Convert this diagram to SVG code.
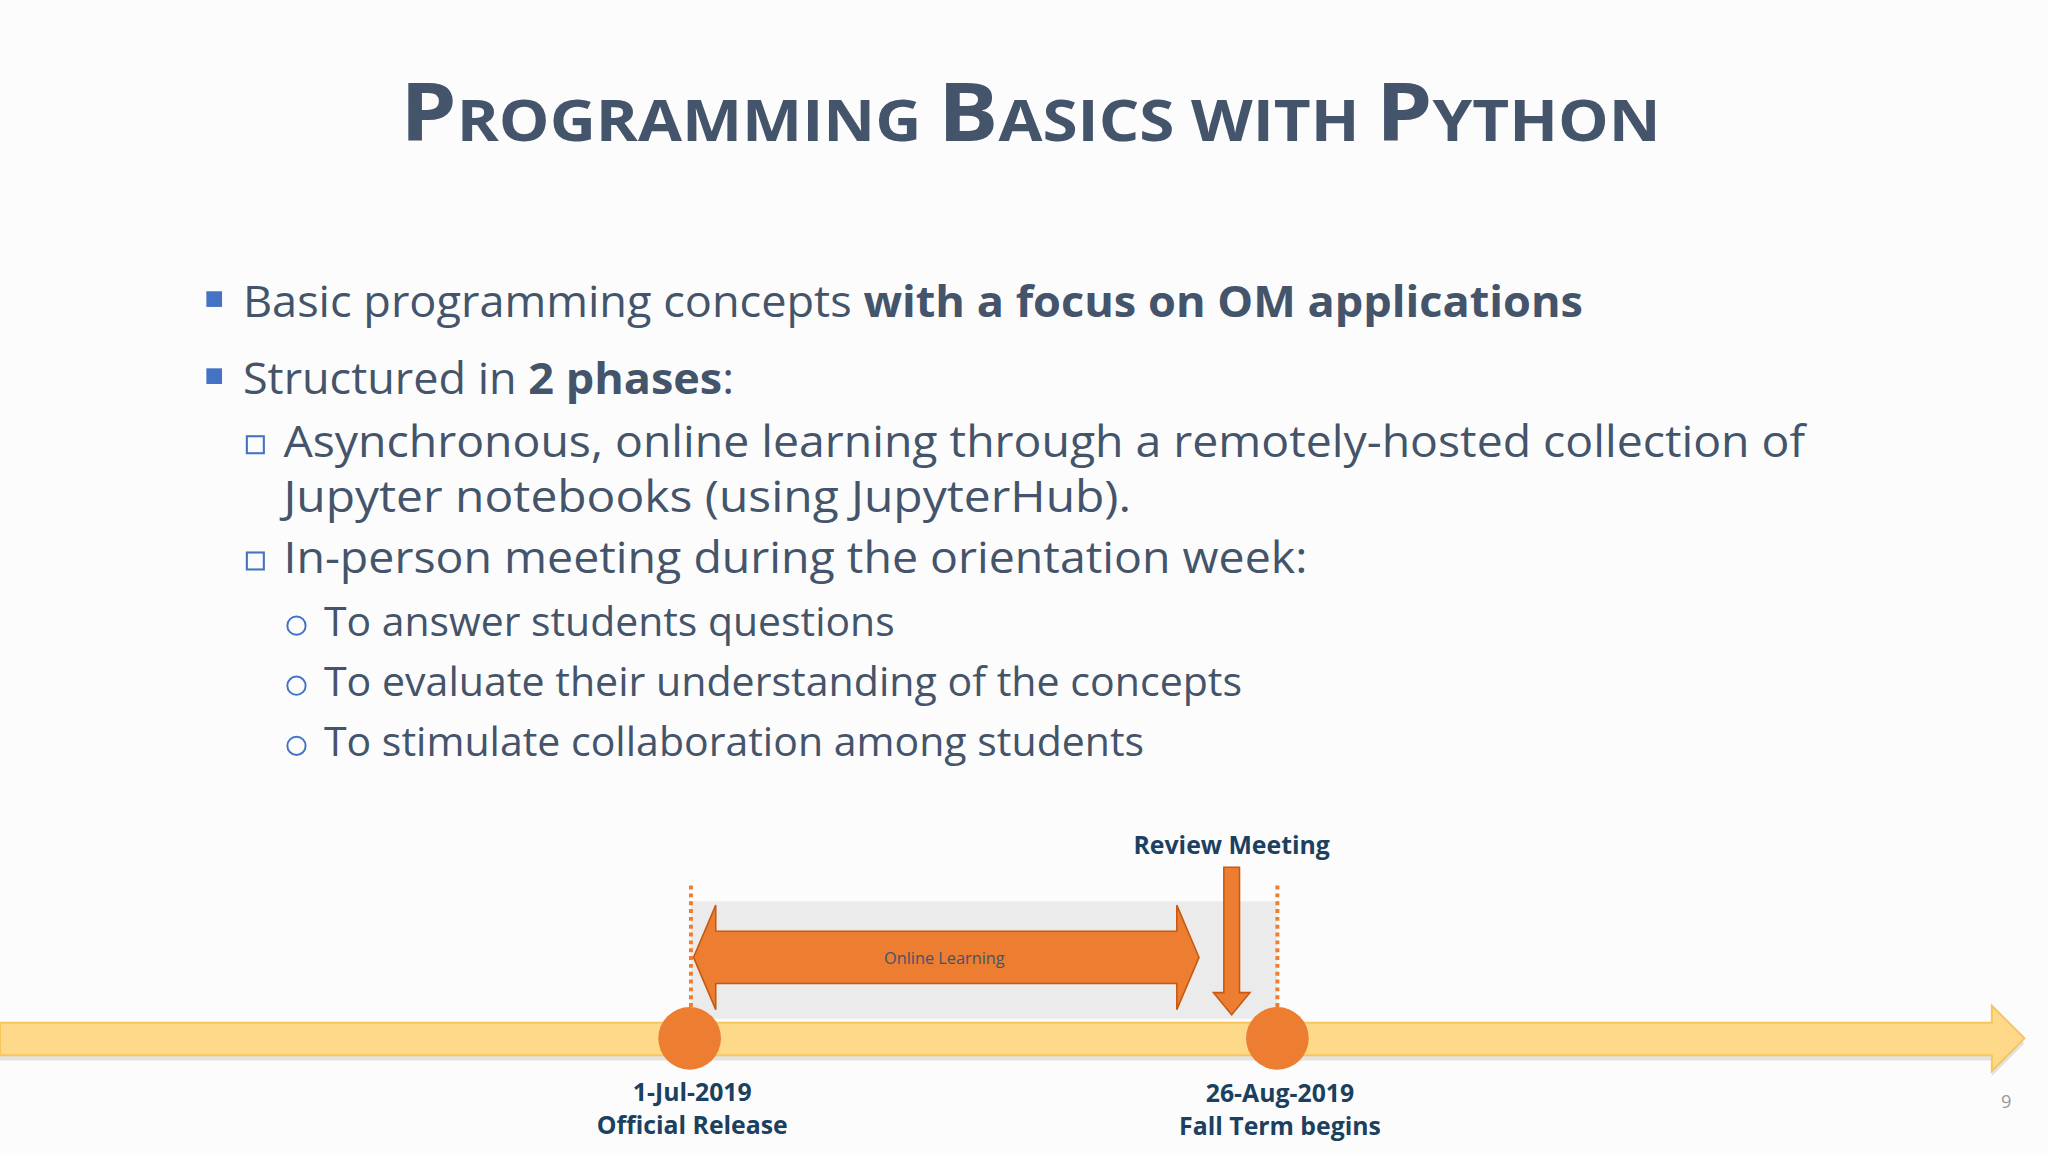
<svg xmlns="http://www.w3.org/2000/svg" width="2048" height="1155" viewBox="0 0 2048 1155">
<style>
.t{font-family:"Open Sans","Liberation Sans",sans-serif;fill:#44546A}
.b{font-weight:bold}
.lab{font-family:"Open Sans","Liberation Sans",sans-serif;font-weight:bold;fill:#1B4060;font-size:19px;text-anchor:middle}
.sq{fill:#4472C4}
.hs{fill:none;stroke:#4472C4;stroke-width:1.6}
.ci{fill:none;stroke:#4472C4;stroke-width:1.5}
.dot{stroke:#ED7D31;stroke-width:3;stroke-dasharray:3 3}
.or{fill:#ED7D31;stroke:#C55A11;stroke-width:1.2}
</style>
<rect width="2048" height="1155" fill="#fcfcfc"/>
<g transform="scale(1.30612)">
<g id="title">
<text class="t b" x="789" y="108" text-anchor="middle" font-size="44" textLength="965" lengthAdjust="spacingAndGlyphs"><tspan font-size="62">P</tspan>ROGRAMMING <tspan font-size="62">B</tspan>ASICS WITH <tspan font-size="62">P</tspan>YTHON</text>
</g>
<g id="bullets">
<rect class="sq" x="158" y="223" width="12" height="12"/>
<text class="t" x="186" y="243" font-size="33" textLength="1026" lengthAdjust="spacingAndGlyphs">Basic programming concepts <tspan class="b">with a focus on OM applications</tspan></text>
<rect class="sq" x="158" y="282" width="12" height="12"/>
<text class="t" x="186" y="302" font-size="33" textLength="376" lengthAdjust="spacingAndGlyphs">Structured in <tspan class="b">2 phases</tspan>:</text>
<rect class="hs" x="189" y="334" width="13" height="13"/>
<text class="t" x="217" y="350" font-size="34" textLength="1165" lengthAdjust="spacingAndGlyphs">Asynchronous, online learning through a remotely-hosted collection of</text>
<text class="t" x="217" y="392" font-size="34" textLength="649" lengthAdjust="spacingAndGlyphs">Jupyter notebooks (using JupyterHub).</text>
<rect class="hs" x="189" y="423" width="13" height="13"/>
<text class="t" x="217" y="439" font-size="34" textLength="784" lengthAdjust="spacingAndGlyphs">In-person meeting during the orientation week:</text>
<circle class="ci" cx="227" cy="479" r="7"/>
<text class="t" x="248" y="487" font-size="31" textLength="437" lengthAdjust="spacingAndGlyphs">To answer students questions</text>
<circle class="ci" cx="227" cy="525" r="7"/>
<text class="t" x="248" y="533" font-size="31" textLength="703" lengthAdjust="spacingAndGlyphs">To evaluate their understanding of the concepts</text>
<circle class="ci" cx="227" cy="571" r="7"/>
<text class="t" x="248" y="579" font-size="31" textLength="628" lengthAdjust="spacingAndGlyphs">To stimulate collaboration among students</text>
</g>
<g id="band"><rect x="529" y="690" width="449" height="90" fill="#ebebeb"/></g>
<g id="connectors">
<line class="dot" x1="529" y1="678" x2="529" y2="772"/>
<line class="dot" x1="978" y1="678" x2="978" y2="772"/>
<polygon class="or" points="943,777 957,760 949,760 949,664 937,664 937,760 929,760"/>
</g>
<g id="timeline">
<polygon points="0,787 1525,787 1525,774 1550,799 1525,824 1525,812 0,812" fill="#c8c8c8" opacity="0.5"/>
<polygon points="0,783 1525,783 1525,770 1550,795 1525,820 1525,808 0,808" fill="#FFD98A" stroke="#F7C55A" stroke-width="1.5"/>
</g>
<g id="online-learning">
<polygon class="or" points="531,733 548,693 548,713 901,713 901,693 918,733 901,773 901,753 548,753 548,773"/>
<text x="723" y="738" text-anchor="middle" font-family="Open Sans, Liberation Sans, sans-serif" font-size="12.5" fill="#44546A">Online Learning</text>
</g>
<g id="release">
<circle cx="528" cy="795" r="24" fill="#ED7D31"/>
<text class="lab" x="530" y="843">1-Jul-2019</text>
<text class="lab" x="530" y="868">Official Release</text>
</g>
<g id="fall">
<circle cx="978" cy="795" r="24" fill="#ED7D31"/>
<text class="lab" x="980" y="844">26-Aug-2019</text>
<text class="lab" x="980" y="869">Fall Term begins</text>
</g>
<g id="review"><text class="lab" x="943" y="654">Review Meeting</text></g>
<text x="1536" y="848" text-anchor="middle" font-family="Open Sans, Liberation Sans, sans-serif" font-size="14" fill="#9a9a9a">9</text>
</g>
</svg>
